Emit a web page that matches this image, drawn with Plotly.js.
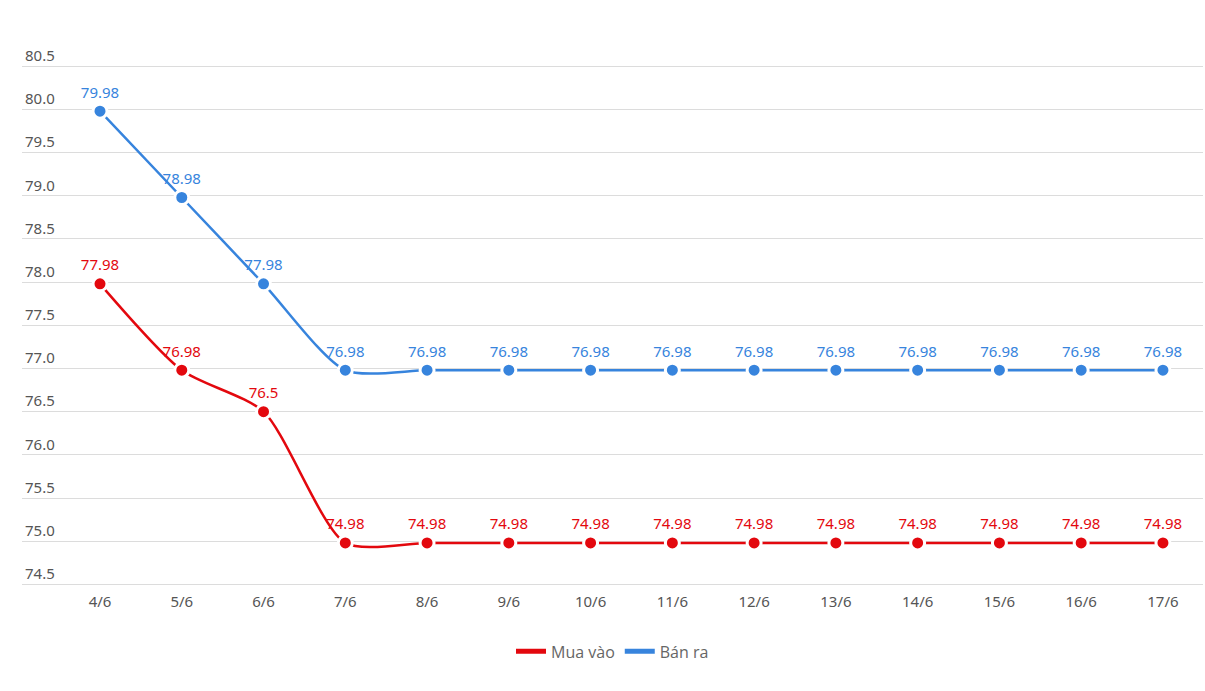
<!DOCTYPE html>
<html><head><meta charset="utf-8">
<script src="https://cdn.plot.ly/plotly-3.0.1.min.js"></script>
<style>html,body{margin:0;padding:0;background:#fff}#c{width:1205px;height:691px}</style>
</head><body><div id="c"></div>
<script>
const dates = ["4/6","5/6","6/6","7/6","8/6","9/6","10/6","11/6","12/6","13/6","14/6","15/6","16/6","17/6"];
const muaVao = [77.98,76.98,76.5,74.98,74.98,74.98,74.98,74.98,74.98,74.98,74.98,74.98,74.98,74.98];
const banRa = [79.98,78.98,77.98,76.98,76.98,76.98,76.98,76.98,76.98,76.98,76.98,76.98,76.98,76.98];
const yTicks = [74.5,75.0,75.5,76.0,76.5,77.0,77.5,78.0,78.5,79.0,79.5,80.0,80.5];
const RED = "#e3080e", BLUE = "#3784dd";
function series(y, color){
  return {x: dates, y: y, type:"scatter", mode:"lines+markers+text", showlegend:false,
    line:{color:color, width:2.5, shape:"spline", smoothing:0.7},
    marker:{color:color, size:14, line:{color:"#fff", width:3}},
    text: y.map(v=>String(v)), textposition:"top center",
    textfont:{family:"Noto Sans, sans-serif", size:15, color:color}, cliponaxis:false, hoverinfo:"skip"};
}
function legendItem(name, color){
  return {x:[null], y:[null], type:"scatter", mode:"lines", name:name, line:{color:color, width:5}};
}
const data = [series(muaVao, RED), series(banRa, BLUE), legendItem("Mua vào", RED), legendItem("Bán ra", BLUE)];
const layout = {
  width:1205, height:691, paper_bgcolor:"#fff", plot_bgcolor:"#fff",
  margin:{l:22, r:2, t:36, b:104},
  font:{family:"Noto Sans, sans-serif", color:"#555"},
  xaxis:{type:"category", range:[-0.954, 13.49], showgrid:false, zeroline:false, showline:false,
    ticks:"", tickfont:{size:15, color:"#555"}, ticklabelstandoff:4},
  yaxis:{range:[74.47, 80.85], tickvals:yTicks, ticktext:yTicks.map(v=>v.toFixed(1)),
    ticklabelposition:"inside top", tickfont:{size:15, color:"#555"}, gridcolor:"#dcdcdc", gridwidth:1,
    zeroline:false, showline:false, ticks:""},
  legend:{orientation:"h", x:0.5, xanchor:"center", y:-0.117, yanchor:"middle",
    font:{family:"Open Sans, sans-serif", size:16, color:"#666"}, itemwidth:30, traceorder:"normal"},
  showlegend:true
};
Plotly.newPlot("c", data, layout, {displayModeBar:false, staticPlot:true});
</script></body></html>
